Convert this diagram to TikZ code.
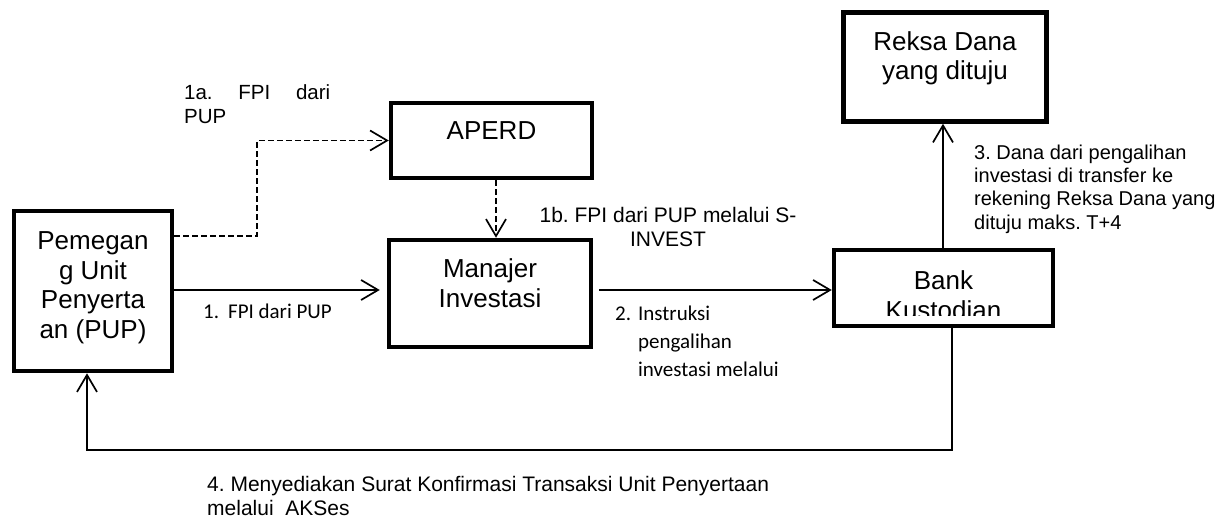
\documentclass[tikz,border=0pt]{standalone}
\usepackage{fontspec}
\setmainfont{Liberation Sans}
\newfontfamily\calfont{Carlito}
\usetikzlibrary{arrows.meta}
\newcommand{\mybox}[4]{\parbox[c][#2pt][t]{#1pt}{\centering\rule{0pt}{#3pt}#4\par}}
\frenchspacing
\begin{document}
\begin{tikzpicture}[x=1pt,y=-1pt,
  box/.style={draw, line width=4.5pt, rectangle, inner sep=0pt, font=\fontsize{26}{29.7}\selectfont},
  conn/.style={line width=1.7pt, -{Straight Barb[length=17pt,width=20pt]}},
  dsh/.style={conn, dash pattern=on 6pt off 3pt},
  lbl/.style={inner sep=0pt, font=\fontsize{20.5}{24}\selectfont},
  clbl/.style={inner sep=0pt, font=\calfont\fontsize{21}{28}\selectfont}]
\useasboundingbox (0,0) rectangle (1224,519);

% boxes
\node[box] (pup) at (93,291) {\mybox{158}{160}{38.3}{Pemegan\\g Unit\\Penyerta\\an (PUP)}};
\node[box] (aperd) at (491.5,140.5) {\mybox{201}{75}{36.3}{APERD}};
\node[box] (mi) at (490,293.5) {\mybox{202}{107}{37.3}{Manajer\\Investasi}};
\node[box] (rd) at (945,67) {\mybox{203}{109}{37.8}{Reksa Dana\\yang dituju}};
\node[box, minimum width=219pt, minimum height=76pt, path picture={
    \clip (path picture bounding box.north west) rectangle ([yshift=11pt]path picture bounding box.south east);
    \node[draw=none, fill=none, inner sep=0pt, anchor=north, font=\fontsize{26}{29.7}\selectfont] (bktext)
      at (path picture bounding box.north) {\mybox{219}{76}{37.3}{Bank\\Kustodian}};
  }] (bk) at (943.5,288) {};

% helper coordinates
\coordinate (r1) at (0,290);
\coordinate (k1) at (257,236);
\coordinate (c1b) at (496,0);
\coordinate (c3) at (943,0);
\coordinate (c4r) at (952,450);
\coordinate (c4l) at (87,450);

% connectors
\draw[conn, shorten >=7pt] (pup.east |- r1) -- (mi.west |- r1);
\draw[conn, shorten <=6pt] (mi.east |- r1) -- (bk.west |- r1);
\draw[conn] (bk.north -| c3) -- (rd.south -| c3);
\draw[dsh] (pup.east |- k1) -- (k1) |- (aperd.west);
\draw[dsh] (aperd.south -| c1b) -- (mi.north -| c1b);
\draw[conn] (bk.south -| c4r) -- (c4r) -- (c4l) -- (pup.south -| c4l);

% labels
\node[lbl, anchor=base west] (l1a) at (184,99.3) {\begin{tabular}[t]{@{}l@{}}\makebox[146pt][s]{1a. FPI dari}\\PUP\end{tabular}};
\node[lbl, font=\fontsize{21}{24}\selectfont, anchor=base] (l1b) at (668,222.5) {\begin{tabular}[t]{@{}c@{}}1b. FPI dari PUP melalui S-\\INVEST\end{tabular}};
\node[lbl, font=\fontsize{20}{23.3}\selectfont, anchor=base west] (l3) at (974,159.2) {\begin{tabular}[t]{@{}l@{}}3. Dana dari pengalihan\\investasi di transfer ke\\rekening Reksa Dana yang\\dituju maks. T+4\end{tabular}};
\node[clbl, anchor=base west] (l1) at (203,318) {1.\hspace{9pt}FPI dari PUP};
\node[clbl, anchor=base west] (l2) at (615,320) {\begin{tabular}[t]{@{}l@{}l@{}}2.\hspace{7pt} & Instruksi\\ & pengalihan\\ & investasi melalui\end{tabular}};
\node[lbl, font=\fontsize{21}{24}\selectfont, anchor=base west] (l4) at (207,491) {\begin{tabular}[t]{@{}l@{}}4. Menyediakan Surat Konfirmasi Transaksi Unit Penyertaan\\melalui\ \ AKSes\end{tabular}};
\end{tikzpicture}
\end{document}
